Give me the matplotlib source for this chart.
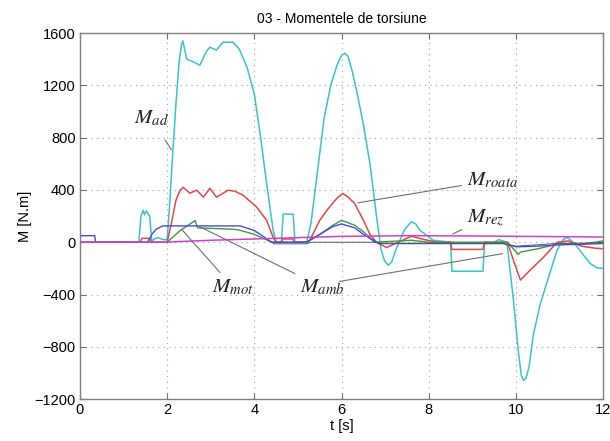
import numpy as np
import matplotlib
matplotlib.use("Agg")
import matplotlib.pyplot as plt

plt.rcParams['font.family'] = ['Liberation Sans', 'DejaVu Sans']
plt.rcParams['mathtext.fontset'] = 'stix'

# M_ad (cyan)
t_ad = [0, 1.35, 1.4, 1.45, 1.48, 1.52, 1.55, 1.6, 1.65, 1.7, 1.8, 1.9, 2.0, 2.05, 2.13, 2.2,
        2.28, 2.33, 2.36, 2.4, 2.45, 2.6, 2.75, 2.9, 2.98, 3.13, 3.28, 3.51, 3.65, 3.83, 4.0,
        4.13, 4.28, 4.43, 4.5, 4.62, 4.66, 4.89, 4.93, 5.2, 5.3, 5.45, 5.6, 5.75, 5.9, 6.0,
        6.08, 6.15, 6.25, 6.35, 6.5, 6.65, 6.8, 6.9, 6.98, 7.07, 7.15, 7.25, 7.45, 7.6, 7.7,
        7.8, 8.1, 8.5, 8.53, 9.24, 9.28, 9.45, 9.6, 9.7, 9.79, 9.94, 10.05, 10.12, 10.17,
        10.23, 10.3, 10.4, 10.55, 10.7, 10.94, 11.08, 11.17, 11.26, 11.4, 11.55, 11.7, 11.85, 12]
m_ad = [0, 0, 200, 245, 210, 240, 225, 200, 0, 25, 35, 20, 20, 250, 690, 1050,
        1400, 1510, 1540, 1480, 1400, 1380, 1354, 1460, 1492, 1470, 1530, 1530, 1480, 1340, 1130,
        834, 450, 92, 0, 0, 215, 215, 0, 0, 150, 550, 950, 1200, 1360, 1430,
        1445, 1420, 1300, 1150, 900, 600, 200, -50, -140, -176, -150, -50, 100, 156, 140,
        90, 15, 0, -222, -222, 0, -10, 20, 10, 0, -444, -826, -1020, -1056,
        -1040, -950, -700, -480, -316, -61, 20, 38, 15, -35, -100, -163, -195, -200]

# M_roata (red)
t_roata = [0, 1.38, 1.42, 1.6, 1.63, 2.0, 2.1, 2.2, 2.3, 2.37, 2.52, 2.68, 2.83, 2.98, 3.13,
           3.4, 3.55, 3.74, 4.05, 4.28, 4.43, 4.5, 4.62, 4.65, 4.88, 4.92, 5.2, 5.27, 5.5, 5.7,
           5.9, 6.03, 6.15, 6.3, 6.5, 6.65, 6.8, 7.03, 7.3, 7.6, 7.9, 8.2, 8.5, 8.53, 9.24, 9.28,
           9.8, 9.94, 10.1, 10.32, 10.63, 10.94, 11.2, 11.5, 11.8, 12]
m_roata = [0, 0, 30, 30, 0, 0, 150, 320, 400, 420, 375, 398, 345, 413, 345,
           398, 390, 360, 270, 168, 38, 0, 0, 25, 25, 0, 0, 15, 168, 260,
           340, 373, 345, 296, 168, 60, 0, -40, 0, 46, 20, 0, 0, -55, -55, 0,
           0, -138, -290, -214, -115, 0, 10, -30, -45, -50]

# M_amb (green)
t_amb = [0, 2.0, 2.3, 2.64, 2.7, 2.9, 3.5, 3.67, 4.0, 4.4, 5.2, 5.5, 5.8, 6.0, 6.3, 6.5,
         6.75, 7.6, 8.0, 9.8, 10.05, 10.1, 10.5, 11.0, 11.5, 12]
m_amb = [0, 0, 90, 165, 110, 107, 100, 92, 60, 0, 0, 60, 130, 168, 130, 80,
         0, 15, 0, 0, -92, -75, -50, -10, -15, 10]

# M_mot (blue)
t_mot = [0, 0.34, 0.36, 1.55, 1.65, 1.75, 1.9, 3.67, 4.0, 4.4, 5.2, 5.5, 5.8, 6.0, 6.3,
         6.5, 6.73, 6.85, 9.7, 10.0, 10.5, 11.0, 12]
m_mot = [50, 50, 0, 0, 60, 100, 125, 125, 90, 0, 0, 60, 120, 140, 110,
         60, 15, -10, -10, -35, -30, -20, -10]

# M_rez (magenta)
t_rez = [0, 1.9, 3, 4.5, 6, 7.5, 9, 10.5, 12]
m_rez = [0, 0, 15, 30, 45, 50, 48, 44, 40]

# dark trace near zero
t_k = [4.4, 4.45, 5.2, 5.3, 6.8, 6.9, 9.7, 10.0, 11.0, 12]
m_k = [0, -12, -12, 0, 0, -8, -8, -30, -8, -5]

fig = plt.figure(figsize=(6.1, 4.41), dpi=100)
ax = fig.add_axes([0.131, 0.095, 0.858, 0.830])

ax.plot(t_ad, m_ad, color='#38c4c8', lw=1.1)
ax.plot(t_roata, m_roata, color='#e04848', lw=1.1)
ax.plot(t_amb, m_amb, color='#3c9a3c', lw=1.0)
ax.plot(t_mot, m_mot, color='#4848e0', lw=1.0)
ax.plot(t_k, m_k, color='#505868', lw=0.7)
ax.plot(t_rez, m_rez, color='#d040d0', lw=1.1)

ax.set_xlim(0, 12)
ax.set_ylim(-1200, 1600)
ax.set_xticks(np.arange(0, 13, 2))
ax.set_yticks(np.arange(-1200, 1601, 400))
ax.grid(True, linestyle=(0, (1, 4)), color='#a0a0a0', lw=0.8)
ax.tick_params(direction='in', top=True, right=True, length=4, labelsize=10.5,
               color='#707070', pad=3)
for s in ax.spines.values():
    s.set_color('#808080')
    s.set_linewidth(1.0)

ax.set_title('03 - Momentele de torsiune', fontsize=10, pad=7)
ax.set_xlabel('t [s]', fontsize=10.5, labelpad=1)
ax.set_ylabel('M [N.m]', fontsize=10.5, labelpad=2)

lc = '#707070'
lab = dict(fontsize=15, color='#202020')
ax.annotate(r'$M_{ad}$', xy=(2.13, 690), xytext=(1.63, 950), ha='center', va='center',
            arrowprops=dict(arrowstyle='-', color=lc, lw=0.8, shrinkA=8), **lab)
ax.annotate(r'$M_{roata}$', xy=(6.31, 298), xytext=(8.88, 474), ha='left', va='center',
            arrowprops=dict(arrowstyle='-', color=lc, lw=0.8, shrinkA=2), **lab)
ax.annotate(r'$M_{rez}$', xy=(8.49, 54), xytext=(8.88, 184), ha='left', va='center',
            arrowprops=dict(arrowstyle='-', color=lc, lw=0.8, shrinkA=2), **lab)
ax.annotate(r'$M_{mot}$', xy=(2.29, 115), xytext=(3.03, -344), ha='left', va='center',
            arrowprops=dict(arrowstyle='-', color=lc, lw=0.8, shrinkA=2), **lab)
ax.annotate(r'$M_{amb}$', xy=(2.68, 130), xytext=(5.05, -344), ha='left', va='center',
            arrowprops=dict(arrowstyle='-', color=lc, lw=0.8, shrinkA=2), **lab)
ax.annotate('', xy=(9.75, -84), xytext=(5.95, -300),
            arrowprops=dict(arrowstyle='-', color=lc, lw=0.8, shrinkA=0))

fig.savefig('out.png', dpi=100)
